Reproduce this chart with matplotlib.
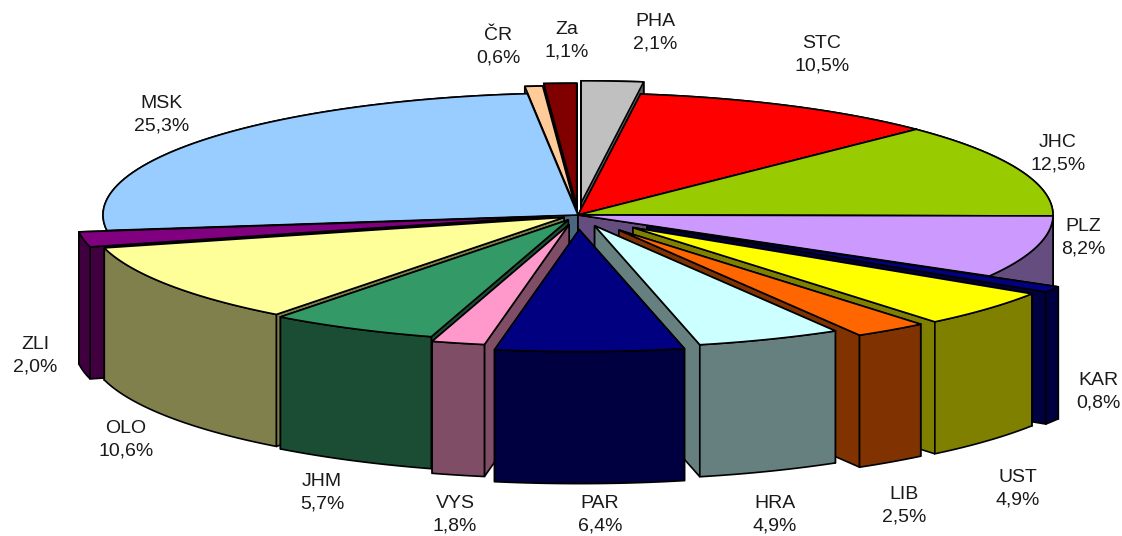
import matplotlib
matplotlib.use('Agg') # Non-interactive backend

import matplotlib.pyplot as plt
import numpy as np
from matplotlib.colors import to_rgb
from matplotlib.patches import Polygon

regions = ['PHA', 'STC', 'JHC', 'PLZ', 'KAR', 'UST', 'LIB', 'HRA',
           'PAR', 'VYS', 'JHM', 'OLO', 'ZLI', 'MSK', 'ČR', 'Za']
shares = [2.1, 10.5, 12.5, 8.2, 0.8, 4.9, 2.5, 4.9,
          6.4, 1.8, 5.7, 10.6, 2.0, 25.3, 0.6, 1.1]
colors = ['#c0c0c0', '#ff0000', '#99cc00', '#cc99ff', '#000080', '#ffff00', '#ff6600', '#ccffff',
          '#000080', '#ff99cc', '#339966', '#ffff99', '#800080', '#99ccff', '#ffcc99', '#800000']
explode = [0.10, 0.0, 0.0, 0.0, 0.17, 0.155, 0.15, 0.095,
           0.12, 0.08, 0.045, 0.035, 0.06, 0.0, 0.06, 0.08]
# label centres in pixels
label_x = [655, 822, 1058, 1083, 1098, 1018, 904, 775, 600, 455, 322, 126, 35, 162, 498, 567]
label_y = [33, 55, 154, 238, 392, 489, 506, 515, 515, 515, 493, 440, 356, 115, 47, 41]

DPI = 100
WIDTH = 1122
HEIGHT = 536
CX, CY = 578, 215
RX, RY = 475, 122
DEPTH = 132
LINE = 1.2


def rim(t, dx, dy):
    return np.column_stack([CX + dx + RX * np.sin(t), CY + dy - RY * np.cos(t)])


fig = plt.figure(figsize=(WIDTH / DPI, HEIGHT / DPI), dpi=DPI)
ax = fig.add_axes([0, 0, 1, 1])
ax.set_xlim(0, WIDTH)
ax.set_ylim(HEIGHT, 0)
ax.axis('off')

edges = np.concatenate([[0], np.cumsum(shares)]) / sum(shares) * 2 * np.pi
mids = (edges[:-1] + edges[1:]) / 2

# back slices first, so the front ones cover them
for i in np.argsort(-np.cos(mids)):
    top = np.array(to_rgb(colors[i]))
    side = top * 0.5
    dx = explode[i] * RX * np.sin(mids[i])
    dy = -explode[i] * RY * np.cos(mids[i])
    apex = np.array([CX + dx, CY + dy])
    down = np.array([0, DEPTH])

    t = np.linspace(edges[i], edges[i + 1], 60)
    arc = rim(t, dx, dy)

    # cut faces, the lower one on screen last
    for p in sorted([arc[0], arc[-1]], key=lambda q: q[1]):
        face = [apex, p, p + down, apex + down]
        ax.add_patch(Polygon(face, fc=side, ec='black', lw=LINE))
    wall = np.vstack([arc, (arc + down)[::-1]])
    ax.add_patch(Polygon(wall, fc=side, ec='black', lw=LINE))
    ax.add_patch(Polygon(np.vstack([apex, arc]), fc=top, ec='black', lw=LINE))

for name, share, x, y in zip(regions, shares, label_x, label_y):
    label = '%s\n%s%%' % (name, ('%.1f' % share).replace('.', ','))
    ax.text(x, y, label, ha='center', va='center', fontsize=14,
            family='Liberation Sans', color='#1a1a1a', linespacing=1.4)

plt.savefig('out.png', dpi=DPI)
